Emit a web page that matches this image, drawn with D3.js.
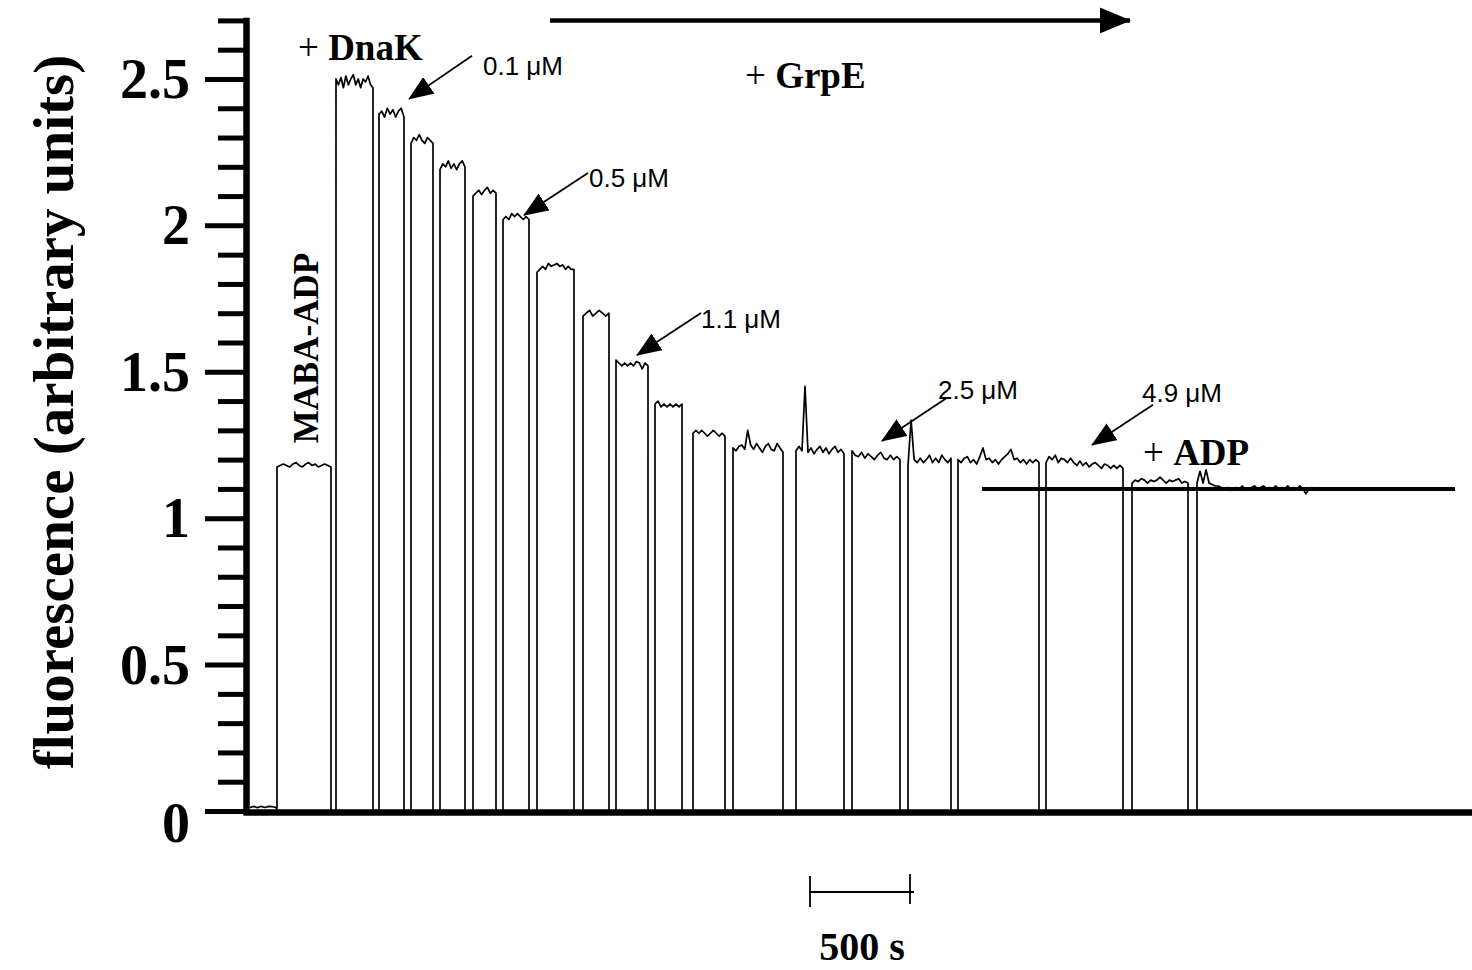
<!DOCTYPE html>
<html lang="en">
<head>
<meta charset="utf-8" />
<title>MABA-ADP release by GrpE</title>
<script src="https://cdn.jsdelivr.net/npm/d3@7"></script>
<style>
  html, body { margin: 0; padding: 0; background: #fff; }
  svg { display: block; }
  .serif { font-family: "Liberation Serif", "DejaVu Serif", serif; font-weight: bold; }
  .sans { font-family: "Liberation Sans", Arial, sans-serif; }
</style>
</head>
<body>
<svg id="chart" width="1472" height="970"></svg>
<script>
// time in s, fluorescence in arbitrary units

// trace before the first addition
var preStart = 35, preEnd = 165;
var preValues = [0.012, 0.016, 0.011, 0.016, 0.012, 0.016, 0.015, 0.012];

// each plateau: start, end (s) and the readings along it
var segStart = [170, 465, 680, 840, 985, 1150, 1300, 1470, 1700, 1865, 2060, 2250, 2450, 2765, 3045, 3325, 3575, 4015, 4445, 4770];
var segEnd   = [440, 650, 805, 950, 1110, 1265, 1430, 1655, 1830, 2025, 2195, 2410, 2700, 3005, 3285, 3540, 3980, 4400, 4725, 5360];
var segValues = [
  [1.175, 1.18, 1.185, 1.18, 1.175, 1.185, 1.19, 1.18, 1.175, 1.185, 1.19, 1.18, 1.185, 1.175, 1.18, 1.185, 1.18, 1.175],
  [2.50, 2.48, 2.505, 2.47, 2.51, 2.48, 2.50, 2.515, 2.48, 2.50, 2.47, 2.50, 2.49, 2.51, 2.48, 2.47],
  [2.38, 2.39, 2.37, 2.40, 2.38, 2.395, 2.37, 2.39, 2.40, 2.37],
  [2.28, 2.30, 2.29, 2.31, 2.29, 2.28, 2.30, 2.29, 2.28],
  [2.19, 2.21, 2.20, 2.22, 2.195, 2.21, 2.19, 2.21, 2.22, 2.20],
  [2.10, 2.11, 2.12, 2.105, 2.12, 2.13, 2.11, 2.12, 2.11],
  [2.02, 2.03, 2.02, 2.04, 2.03, 2.04, 2.03, 2.02, 2.03, 2.02],
  [1.84, 1.85, 1.86, 1.85, 1.87, 1.86, 1.865, 1.87, 1.86, 1.865, 1.85, 1.86, 1.85, 1.85],
  [1.69, 1.70, 1.71, 1.69, 1.70, 1.71, 1.70, 1.69, 1.70],
  [1.54, 1.53, 1.52, 1.53, 1.52, 1.53, 1.52, 1.535, 1.53, 1.51, 1.53, 1.52],
  [1.39, 1.40, 1.38, 1.39, 1.38, 1.39, 1.38, 1.39, 1.38, 1.39],
  [1.29, 1.30, 1.29, 1.30, 1.29, 1.28, 1.29, 1.30, 1.29, 1.28, 1.29, 1.28],
  [1.24, 1.23, 1.245, 1.25, 1.235, 1.30, 1.25, 1.235, 1.255, 1.24, 1.225, 1.245, 1.255, 1.235, 1.23, 1.255, 1.24, 1.225],
  [1.23, 1.245, 1.23, 1.45, 1.225, 1.24, 1.22, 1.235, 1.245, 1.225, 1.24, 1.22, 1.235, 1.245, 1.225, 1.235, 1.22],
  [1.23, 1.215, 1.21, 1.225, 1.205, 1.22, 1.21, 1.20, 1.215, 1.225, 1.205, 1.20, 1.215, 1.20, 1.21, 1.20],
  [1.18, 1.335, 1.20, 1.19, 1.205, 1.19, 1.20, 1.215, 1.19, 1.205, 1.19, 1.215, 1.20, 1.19, 1.205],
  [1.20, 1.19, 1.205, 1.21, 1.19, 1.20, 1.185, 1.21, 1.24, 1.20, 1.205, 1.19, 1.20, 1.185, 1.20, 1.21, 1.22, 1.235, 1.20, 1.205, 1.19, 1.20, 1.185, 1.20, 1.19, 1.20, 1.19],
  [1.19, 1.21, 1.20, 1.215, 1.19, 1.205, 1.20, 1.19, 1.205, 1.19, 1.18, 1.195, 1.18, 1.19, 1.175, 1.185, 1.19, 1.18, 1.17, 1.185, 1.18, 1.17, 1.18, 1.17, 1.18, 1.17],
  [1.12, 1.13, 1.125, 1.135, 1.13, 1.12, 1.13, 1.125, 1.13, 1.14, 1.13, 1.12, 1.13, 1.125, 1.13, 1.135, 1.12, 1.125, 1.12],
  [1.12, 1.16, 1.12, 1.165, 1.12, 1.115, 1.11, 1.11, 1.105, 1.10, 1.105, 1.095, 1.10, 1.105, 1.10, 1.11, 1.095, 1.10, 1.105, 1.11,
   1.10, 1.105, 1.11, 1.10, 1.105, 1.10, 1.11, 1.10, 1.105, 1.10, 1.11, 1.10, 1.105, 1.10, 1.11, 1.10, 1.083, 1.10, 1.105, 1.10]
];

// level after ADP
var adpLevel = 1.10, adpFrom = 3695, adpTo = 6060;

// y axis
var majorTicks = [0, 0.5, 1, 1.5, 2, 2.5];
var minorTicks = [0.1, 0.2, 0.3, 0.4, 0.6, 0.7, 0.8, 0.9, 1.1, 1.2, 1.3, 1.4, 1.6, 1.7, 1.8, 1.9, 2.1, 2.2, 2.3, 2.4, 2.6, 2.7];

// concentration labels: text, text anchor, arrow tail, arrow tip
var concLabels = ["0.1 \u03bcM", "0.5 \u03bcM", "1.1 \u03bcM", "2.5 \u03bcM", "4.9 \u03bcM"];
var concText = [[1200, 2.514], [1730, 2.131], [2290, 1.650], [3475, 1.407], [4495, 1.397]];
var concTail = [[1145, 2.579], [1725, 2.179], [2290, 1.701], [3520, 1.411], [4550, 1.387]];
var concTip  = [[830, 2.432], [1405, 2.035], [1970, 1.557], [3195, 1.264], [4245, 1.250]];

// "+ X" additions
var addLabels = ["DnaK", "GrpE", "ADP"];
var addPos = [[275, 2.565], [2510, 2.469], [4500, 1.182]];

var grpeArrow = [[1535, 2.70], [4435, 2.70]];
var scaleBar = [2835, 3335];

var svg = d3.select("#chart");
var x = d3.scaleLinear().domain([0, 6150]).range([243, 1473]);
var y = d3.scaleLinear().domain([0, 2.7]).range([811, 20.4]);

var defs = svg.append("defs");
defs.append("marker").attr("id", "head")
  .attr("viewBox", "0 0 25 20").attr("markerWidth", 25).attr("markerHeight", 20)
  .attr("refX", 24).attr("refY", 10).attr("orient", "auto").attr("markerUnits", "userSpaceOnUse")
  .append("path").attr("d", "M0,0L25,10L0,20Z").attr("fill", "#000");
defs.append("marker").attr("id", "bighead")
  .attr("viewBox", "0 0 31 26").attr("markerWidth", 31).attr("markerHeight", 26)
  .attr("refX", 30).attr("refY", 13).attr("orient", "auto").attr("markerUnits", "userSpaceOnUse")
  .append("path").attr("d", "M0,0L31,13L0,26Z").attr("fill", "#000");

// build the trace
var points = [];
preValues.forEach(function(v, i) {
  points.push([preStart + (preEnd - preStart) * i / (preValues.length - 1), v]);
});
segStart.forEach(function(s, i) {
  var vals = segValues[i], e = segEnd[i];
  points.push([s, 0]);
  vals.forEach(function(v, j) {
    points.push([s + (e - s) * j / (vals.length - 1), v]);
  });
  if (i < segStart.length - 1) points.push([e, 0]);
});

var line = d3.line().x(function(d) { return x(d[0]); }).y(function(d) { return y(d[1]); });

svg.append("path").datum(points)
  .attr("d", line)
  .attr("fill", "none").attr("stroke", "#000").attr("stroke-width", 1.7)
  .attr("stroke-linejoin", "round");

// ADP level line
svg.append("line")
  .attr("x1", x(adpFrom)).attr("x2", x(adpTo))
  .attr("y1", y(adpLevel)).attr("y2", y(adpLevel))
  .attr("stroke", "#000").attr("stroke-width", 4);

// axes
var minorG = svg.append("g").attr("transform", "translate(246,0)")
  .call(d3.axisLeft(y).tickValues(minorTicks).tickSize(28).tickSizeOuter(0).tickFormat(""));
minorG.select(".domain").remove();
minorG.selectAll(".tick line").attr("stroke-width", 5);

var yAxisG = svg.append("g").attr("transform", "translate(246,0)")
  .call(d3.axisLeft(y).tickValues(majorTicks).tickSize(41).tickSizeOuter(0).tickPadding(15)
    .tickFormat(function(d) { return String(d); }));
yAxisG.select(".domain").attr("stroke-width", 6.5).attr("stroke-linecap", "square");
yAxisG.selectAll(".tick line").attr("stroke-width", 5);
yAxisG.selectAll(".tick text")
  .attr("class", "serif").attr("font-size", 56).attr("fill", "#000")
  .attr("dy", function(d) { return d === 0 ? "0.55em" : "0.33em"; });

var xAxisG = svg.append("g").attr("transform", "translate(0," + (y(0) + 1) + ")")
  .call(d3.axisBottom(x).tickValues([]).tickSizeOuter(0));
xAxisG.select(".domain").attr("stroke-width", 6.5);

// y title
svg.append("text").attr("class", "serif")
  .attr("transform", "translate(73,412) rotate(-90)")
  .attr("text-anchor", "middle").attr("font-size", 57)
  .text("fluorescence (arbitrary units)");

// MABA-ADP
svg.append("text").attr("class", "serif")
  .attr("transform", "translate(" + x(375) + "," + y(1.581) + ") rotate(-90)")
  .attr("text-anchor", "middle").attr("font-size", 35)
  .text("MABA-ADP");

// + additions
addLabels.forEach(function(name, i) {
  var t = svg.append("text").attr("class", "serif").attr("font-size", 37)
    .attr("x", x(addPos[i][0])).attr("y", y(addPos[i][1]));
  t.append("tspan").attr("font-weight", "normal").text("+ ");
  t.append("tspan").text(name);
});

// concentration arrows
concLabels.forEach(function(lab, i) {
  svg.append("line")
    .attr("x1", x(concTail[i][0])).attr("y1", y(concTail[i][1]))
    .attr("x2", x(concTip[i][0])).attr("y2", y(concTip[i][1]))
    .attr("stroke", "#000").attr("stroke-width", 1.8)
    .attr("marker-end", "url(#head)");
  svg.append("text").attr("class", "sans").attr("font-size", 26)
    .attr("x", x(concText[i][0])).attr("y", y(concText[i][1]))
    .text(lab);
});

// GrpE arrow along the top
svg.append("line")
  .attr("x1", x(grpeArrow[0][0])).attr("y1", y(grpeArrow[0][1]))
  .attr("x2", x(grpeArrow[1][0])).attr("y2", y(grpeArrow[1][1]))
  .attr("stroke", "#000").attr("stroke-width", 4.5)
  .attr("marker-end", "url(#bighead)");

// 500 s scale bar
var barY = 892;
var bar = svg.append("g").attr("stroke", "#000").attr("stroke-width", 1.8);
bar.append("line").attr("x1", x(scaleBar[0])).attr("x2", x(scaleBar[1]) + 4).attr("y1", barY).attr("y2", barY);
bar.append("line").attr("x1", x(scaleBar[0])).attr("x2", x(scaleBar[0])).attr("y1", barY - 16).attr("y2", barY + 15);
bar.append("line").attr("x1", x(scaleBar[1])).attr("x2", x(scaleBar[1])).attr("y1", barY - 18).attr("y2", barY + 12);
svg.append("text").attr("class", "serif").attr("font-size", 40)
  .attr("x", x((scaleBar[0] + scaleBar[1]) / 2) + 2).attr("y", 960)
  .attr("text-anchor", "middle").text("500 s");
</script>
</body>
</html>
